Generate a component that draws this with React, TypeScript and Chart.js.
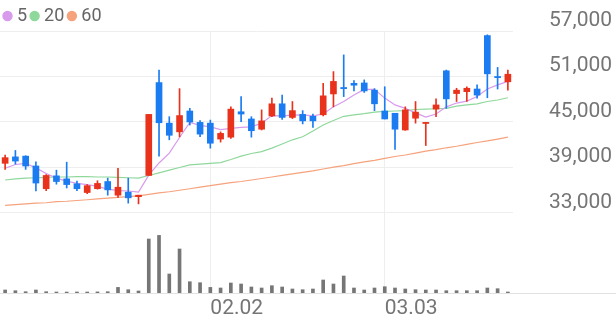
import React, { useEffect, useRef } from 'react';
import { Chart, registerables } from 'chart.js';

Chart.register(...registerables);

const DATES = [
  '01.05', '01.06', '01.07', '01.08', '01.09', '01.12', '01.13', '01.14', '01.15', '01.16',
  '01.19', '01.20', '01.21', '01.22', '01.23', '01.26', '01.27', '01.28', '01.29', '01.30',
  '02.02', '02.03', '02.04', '02.05', '02.06', '02.09', '02.10', '02.11', '02.12', '02.13',
  '02.19', '02.20', '02.23', '02.24', '02.25', '02.26', '02.27', '03.03', '03.04', '03.05',
  '03.06', '03.09', '03.10', '03.11', '03.12', '03.13', '03.16', '03.17', '03.18', '03.19',
];
const TICK_DATES = ['02.02', '03.03'];
const PRICE_TICKS = [33000, 39000, 45000, 51000, 57000];

const OPEN = [
  39550, 40400, 40500, 39200, 36200, 37900, 37500, 36850, 35700, 36200,
  37150, 35350, 35750, 35150, 37950, 50200, 44850, 43700, 46450, 44950,
  44850, 42750, 43000, 46350, 45400, 44050, 45800, 47400, 45600, 46000,
  45750, 45950, 48700, 49550, 50100, 50150, 49200, 46450, 46150, 43950,
  45500, 44800, 46700, 51750, 48750, 49000, 49350, 56400, 51000, 50300,
];
const HIGH = [
  40650, 41250, 40550, 39750, 38050, 38650, 39700, 37200, 36750, 37250,
  37600, 38900, 37600, 35350, 46000, 51850, 45700, 49400, 46800, 45200,
  45250, 43700, 47000, 48350, 45700, 46600, 48150, 48550, 47700, 46500,
  46050, 50100, 51650, 53850, 50450, 50550, 49400, 49650, 46150, 47000,
  47700, 44950, 48050, 51850, 49450, 49650, 49900, 56500, 52200, 51850,
];
const LOW = [
  38750, 39450, 38750, 35900, 35950, 36800, 36300, 35950, 35550, 36150,
  35350, 35050, 34300, 34200, 37950, 40500, 42650, 43050, 44600, 43050,
  41550, 42350, 42850, 45050, 43000, 43950, 45700, 45350, 45450, 44750,
  44300, 45800, 47000, 48350, 49100, 48900, 46500, 45400, 41400, 43900,
  44850, 41900, 45700, 46800, 47700, 47700, 48150, 48200, 49350, 49200,
];
const CLOSE = [
  40300, 39850, 39200, 36950, 37950, 37150, 36750, 36200, 36600, 36900,
  36050, 36400, 35000, 35350, 46000, 44900, 43250, 45850, 45000, 43400,
  42200, 43500, 46700, 46050, 43850, 45150, 47400, 45600, 46500, 45150,
  45150, 48450, 50350, 49400, 49850, 49100, 47400, 45400, 44050, 46600,
  46300, 44950, 47250, 48050, 49200, 49450, 48550, 51350, 50850, 51300,
];
const VOLUME = [
  150000, 115000, 65000, 150000, 65000, 50000, 48000, 52000, 50000, 55000,
  65000, 280000, 165000, 100000, 2700000, 2880000, 950000, 2200000, 565000, 515000,
  280000, 250000, 500000, 450000, 300000, 250000, 365000, 300000, 200000, 165000,
  200000, 650000, 450000, 850000, 250000, 150000, 250000, 315000, 250000, 200000,
  165000, 150000, 150000, 115000, 115000, 115000, 115000, 250000, 215000, 50000,
];
const MA5 = [
  38900, 39400, 39550, 38950, 38200, 37600, 37200, 36900, 36750, 36500,
  36150, 35950, 35900, 35750, 38000, 39600, 40900, 42950, 44950, 44550,
  44350, 44000, 44150, 44300, 44350, 44850, 45850, 45800, 45900, 45950,
  45800, 46050, 47000, 47700, 48550, 49300, 49300, 48150, 47250, 46800,
  46200, 45650, 46050, 47000, 47500, 47750, 48350, 49350, 49900, 50350,
];
const MA20 = [
  37350, 37500, 37600, 37650, 37700, 37750, 37750, 37800, 37800, 37750,
  37750, 37700, 37650, 37600, 37950, 38300, 38650, 39000, 39350, 39450,
  39550, 39650, 40050, 40500, 40850, 41100, 41550, 42100, 42650, 43050,
  43800, 44600, 45200, 45750, 45950, 46100, 46300, 46400, 46450, 46500,
  46650, 46700, 46750, 46800, 47100, 47250, 47400, 47700, 47900, 48200,
];
const MA60 = [
  34000, 34100, 34200, 34300, 34350, 34500, 34550, 34650, 34750, 34850,
  34950, 35050, 35150, 35250, 35450, 35650, 35800, 36000, 36200, 36400,
  36600, 36800, 37000, 37150, 37350, 37550, 37750, 37950, 38150, 38350,
  38550, 38800, 39050, 39250, 39500, 39750, 39950, 40200, 40450, 40650,
  40900, 41150, 41350, 41600, 41800, 42050, 42300, 42500, 42750, 43000,
];

const RED = '#e8321c';
const BLUE = '#1a7cf0';
const C5 = '#d89aec';
const C20 = '#8fd89c';
const C60 = '#f6a27c';
const VOL = '#767676';
const GRID = '#eeeeee';
const TEXT = '#757575';
const FONT = 'Roboto, "Noto Sans", sans-serif';

const fmt = (v: number) => String(Math.round(v)).replace(/\B(?=(\d{3})+(?!\d))/g, ',');

const baselinePlugin = {
  id: 'baseline',
  beforeDatasetsDraw(chart: any) {
    const { ctx, chartArea } = chart;
    ctx.save();
    ctx.strokeStyle = '#e2e2e2';
    ctx.lineWidth = 1;
    ctx.beginPath();
    ctx.moveTo(0, chartArea.bottom + 0.5);
    ctx.lineTo(chart.width, chartArea.bottom + 0.5);
    ctx.stroke();
    ctx.restore();
  },
};

export default function App() {
  const ref = useRef<HTMLCanvasElement>(null);

  useEffect(() => {
    document.body.style.margin = '0';
    const candleColor = (c: any) => (CLOSE[c.dataIndex] >= OPEN[c.dataIndex] ? RED : BLUE);
    const lineDs = (label: string, data: number[], color: string) => ({
      type: 'line' as const,
      label,
      data,
      borderColor: color,
      backgroundColor: color,
      borderWidth: 1.2,
      pointRadius: 0,
      pointStyle: 'circle',
      tension: 0,
      order: 10,
      yAxisID: 'y',
    });

    const chart = new Chart(ref.current as HTMLCanvasElement, {
      type: 'bar',
      data: {
        labels: DATES,
        datasets: [
          lineDs('5', MA5, C5),
          lineDs('20', MA20, C20),
          lineDs('60', MA60, C60),
          {
            type: 'bar',
            label: 'wick',
            data: LOW.map((l, i) => [l, HIGH[i]]),
            backgroundColor: candleColor,
            barThickness: 1,
            grouped: false,
            order: 3,
            yAxisID: 'y',
          },
          {
            type: 'bar',
            label: 'body',
            data: OPEN.map((o, i) => [o, CLOSE[i]]),
            backgroundColor: candleColor,
            barThickness: 6,
            grouped: false,
            order: 2,
            yAxisID: 'y',
          },
          {
            type: 'bar',
            label: 'volume',
            data: VOLUME,
            backgroundColor: VOL,
            barThickness: 3,
            grouped: false,
            order: 1,
            yAxisID: 'yv',
          },
        ] as any,
      },
      options: {
        responsive: false,
        animation: false,
        events: [],
        layout: { padding: 0 },
        plugins: {
          legend: {
            display: true,
            position: 'top',
            align: 'start',
            maxHeight: 31,
            labels: {
              usePointStyle: true,
              pointStyle: 'circle',
              boxWidth: 1,
              boxHeight: 6.5,
              padding: 7,
              color: '#666666',
              font: { family: FONT, size: 18 },
              filter: (item: any) => ['5', '20', '60'].includes(item.text),
            },
          },
          tooltip: { enabled: false },
        },
        scales: {
          x: {
            type: 'category',
            offset: true,
            grid: {
              offset: false,
              drawTicks: false,
              color: (c: any) => (TICK_DATES.includes(DATES[c.index]) ? GRID : 'rgba(0,0,0,0)'),
            },
            border: { display: false },
            ticks: {
              autoSkip: false,
              maxRotation: 0,
              minRotation: 0,
              align: 'start',
              padding: 3,
              color: TEXT,
              font: { family: FONT, size: 21 },
              callback: (_v: any, i: number) => (TICK_DATES.includes(DATES[i]) ? DATES[i] : ''),
            },
            afterFit: (s: any) => {
              s.height = 28;
              s.paddingLeft = 0;
              s.paddingRight = 0;
            },
          },
          y: {
            type: 'linear',
            position: 'right',
            min: 22450,
            max: 57000,
            grid: { color: GRID, drawTicks: false },
            border: { display: false },
            ticks: {
              align: 'end',
              crossAlign: 'near',
              padding: 36,
              color: TEXT,
              font: { family: FONT, size: 21 },
              callback: (v: any) => fmt(Number(v)),
            },
            afterBuildTicks: (s: any) => {
              s.ticks = PRICE_TICKS.map((v) => ({ value: v }));
            },
            afterFit: (s: any) => {
              s.width = 103;
              s.paddingTop = 0;
              s.paddingBottom = 0;
            },
          },
          yv: {
            type: 'linear',
            display: false,
            min: 0,
            max: 13100000,
          },
        },
      } as any,
      plugins: [baselinePlugin],
    });

    return () => chart.destroy();
  }, []);

  return <canvas ref={ref} width={616} height={321} style={{ display: 'block' }} />;
}
